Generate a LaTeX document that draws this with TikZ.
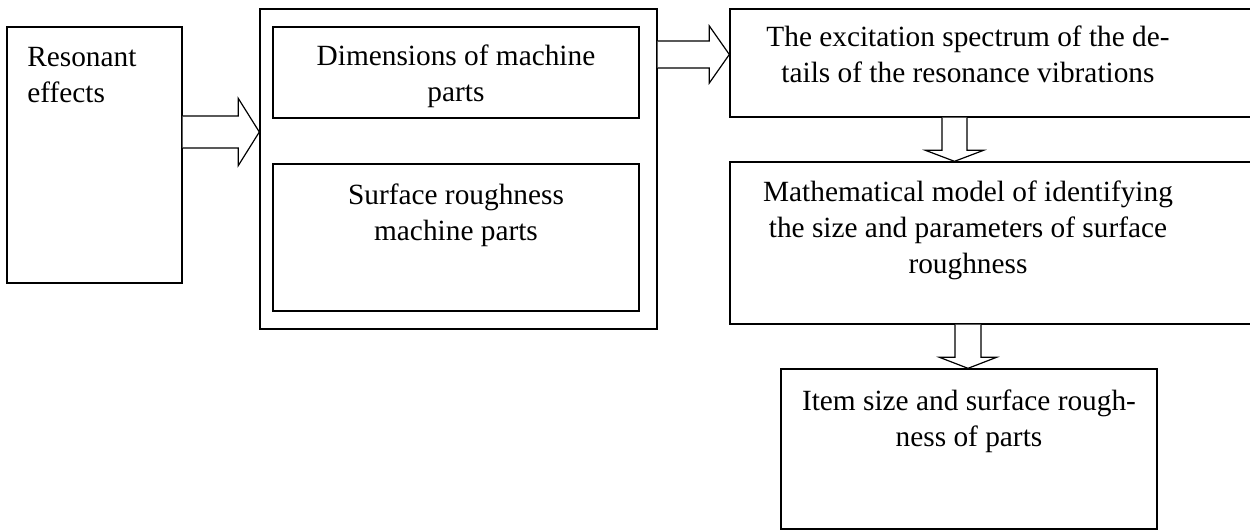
\documentclass[tikz,border=0pt]{standalone}
\usepackage{fontspec}
\setmainfont{Liberation Serif}
\usetikzlibrary{calc}

\tikzset{
  box/.style={draw, line width=1pt, rectangle, inner sep=0pt, fill=none},
  label/.style={inner sep=0pt, anchor=base, font=\fontsize{22}{27}\selectfont},
  blockarrow/.style={draw, line width=0.9pt, fill=white, line join=miter}
}

% horizontal block arrow: tail point, tip point, shaft half-width, head half-width, head length
\newcommand\blockright[5]{%
  \draw[blockarrow] ($(#1)+(0,-#3)$) -- ($(#2)+(-#5,-#3)$) -- ($(#2)+(-#5,-#4)$)
    -- (#2) -- ($(#2)+(-#5,#4)$) -- ($(#2)+(-#5,#3)$) -- ($(#1)+(0,#3)$);}
% vertical block arrow pointing down (y grows downwards)
\newcommand\blockdown[5]{%
  \draw[blockarrow] ($(#1)+(-#3,0)$) -- ($(#2)+(-#3,-#5)$) -- ($(#2)+(-#4,-#5)$)
    -- (#2) -- ($(#2)+(#4,-#5)$) -- ($(#2)+(#3,-#5)$) -- ($(#1)+(#3,0)$);}

\begin{document}
\begin{tikzpicture}[x=0.75pt, y=-0.75pt]
  \useasboundingbox (0,0) rectangle (1250,530);
  \clip (0,0) rectangle (1250,530);

  % boxes
  \node[box, minimum width=175*0.75pt, minimum height=256*0.75pt] (res) at (94.5,155) {};
  \node[box, minimum width=397*0.75pt, minimum height=320*0.75pt] (outer) at (458.5,169) {};
  \node[box, minimum width=366*0.75pt, minimum height=91*0.75pt] (dim) at (456,72.5) {};
  \node[box, minimum width=366*0.75pt, minimum height=147*0.75pt] (surf) at (456,237.5) {};
  \node[box, minimum width=540*0.75pt, minimum height=108*0.75pt] (exc) at (1000,63) {};
  \node[box, minimum width=540*0.75pt, minimum height=162*0.75pt] (math) at (1000,243) {};
  \node[box, minimum width=376*0.75pt, minimum height=160*0.75pt] (item) at (969,449) {};

  % texts (base anchor sits on the last line)
  \node[label, anchor=base west, align=left] (tres) at (27,103) {Resonant\\effects};
  \node[label, align=center] (tdim) at (456,102) {Dimensions of machine\\parts};
  \node[label, align=center] (tsurf) at (456,241) {Surface roughness\\machine parts};
  \node[label, align=center] (texc) at (968,83) {The excitation spectrum of the de-\\tails of the resonance vibrations};
  \node[label, align=center] (tmath) at (968,274) {Mathematical model of identifying\\the size and parameters of surface\\roughness};
  \node[label, align=center] (titem) at (969,447) {Item size and surface rough-\\ness of parts};

  % connectors
  \coordinate (a1s) at (res.east |- 0,132);
  \coordinate (a1t) at (outer.west |- 0,132);
  \blockright{a1s}{a1t}{16}{33.5}{21}
  \coordinate (a2s) at (outer.east |- 0,54.5);
  \coordinate (a2t) at (exc.west |- 0,54.5);
  \blockright{a2s}{a2t}{13.5}{28.5}{20}
  \coordinate (a3s) at (exc.south -| 954.5,0);
  \coordinate (a3t) at (math.north -| 954.5,0);
  \blockdown{a3s}{a3t}{12.5}{29}{11}
  \coordinate (a4s) at (math.south -| 968,0);
  \coordinate (a4t) at (item.north -| 968,0);
  \blockdown{a4s}{a4t}{13}{28.5}{11}
\end{tikzpicture}
\end{document}
